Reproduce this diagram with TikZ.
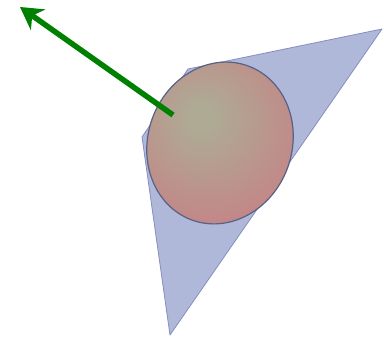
\documentclass[tikz,border=0pt]{standalone}
\usetikzlibrary{arrows.meta}

\definecolor{wedgeblue}{RGB}{176,184,218}
\definecolor{wedgeline}{RGB}{132,142,192}
\definecolor{discred}{RGB}{200,126,132}
\definecolor{discmid}{RGB}{174,170,148}
\definecolor{discline}{RGB}{88,98,132}
\definecolor{normalgreen}{RGB}{0,128,0}
\pgfdeclareradialshading{discshade}{\pgfpoint{-6bp}{6bp}}{%
    color(0bp)=(discmid); color(4bp)=(discmid); color(36bp)=(discred); color(70bp)=(discred)}

\begin{document}
\begin{tikzpicture}[x=1pt,y=1pt,
    wedge/.style={fill=wedgeblue,draw=wedgeline,line width=0.8pt,line join=round},
    disc/.style={draw=discline,line width=1.2pt,shading=discshade,shading angle=0},
    normalarrow/.style={normalgreen,line width=5.5pt,-{Stealth[length=22pt,width=25pt,inset=7pt]}}]
    \useasboundingbox (0,0) rectangle (384,347);
    % vierhoek
    \coordinate (tr) at (382,318);
    \coordinate (tl) at (188,278);
    \coordinate (lf) at (142,210);
    \coordinate (bt) at (170,12);
    \draw[wedge] (tr) -- (tl) -- (lf) -- (bt) -- cycle;
    % ingeschreven ellips
    \coordinate (c) at (220,204);
    \draw[disc] (c) ellipse [x radius=72, y radius=82, rotate=-20];
    % normaal
    \coordinate (n0) at (173,232);
    \coordinate (n1) at (20,340);
    \draw[normalarrow] (n0) -- (n1);
\end{tikzpicture}
\end{document}
